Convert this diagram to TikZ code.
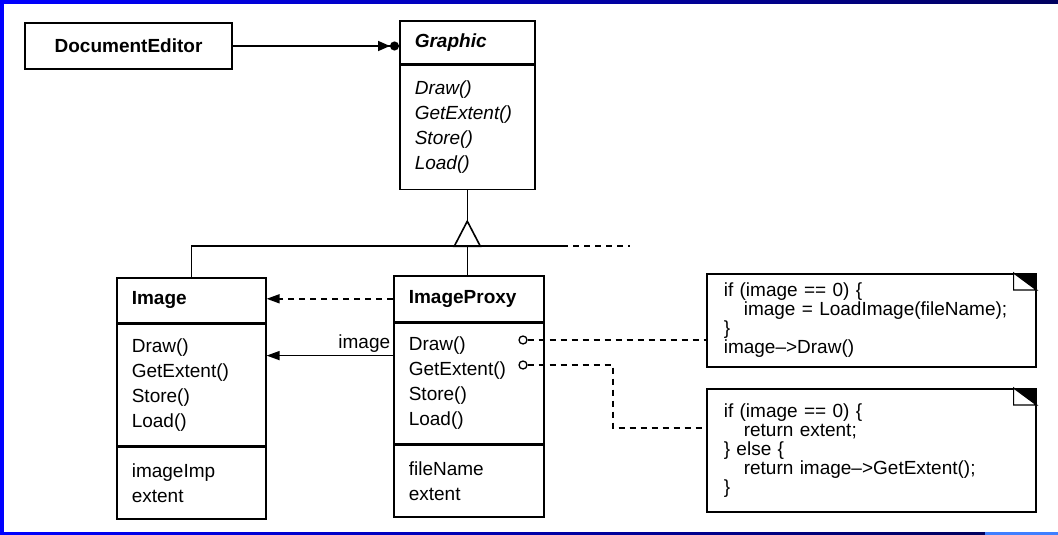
\documentclass[tikz,border=0pt]{standalone}
\usepackage{fontspec}
\setmainfont{Liberation Sans}
\usetikzlibrary{positioning,arrows.meta}
\definecolor{SlideBlue}{HTML}{0000FF}
\definecolor{SlideNavy}{HTML}{00005E}
\definecolor{SlideSky}{HTML}{3F7FFF}
\newcommand{\umlsize}{\fontsize{19}{25}\selectfont}
\newcommand{\notesize}{\fontsize{19}{19}\selectfont}

\begin{document}
\begin{tikzpicture}[x=1pt, y=-1pt, line width=1.6pt,
                    >={Triangle[length=13pt,width=9pt]},
                    cls/.style={draw, text width=#1, align=left, inner xsep=15pt,
                                inner ysep=0pt, font=\umlsize},
                    note/.style={draw, text width=295pt, minimum width=329pt, align=left,
                                 inner xsep=17pt, inner ysep=0pt, font=\notesize},
                    port/.style={draw, circle, inner sep=0pt, minimum size=8pt, line width=1.3pt},
                    dashline/.style={dash pattern=on 6pt off 5pt}]
\useasboundingbox (0,0) rectangle (1058,535);
\fill[SlideBlue] (0,0) rectangle (4,535);
\shade[left color=SlideBlue, right color=SlideNavy] (0,0) rectangle (1058,4);
\shade[left color=SlideBlue, right color=SlideNavy] (0,532) rectangle (985,535);
\fill[SlideSky] (985,532) rectangle (1058,535);

\node[draw, minimum width=207pt, minimum height=46pt, font=\umlsize\bfseries] (docEd) at (128.5,46) {DocumentEditor};

% Graphic
\node[cls=105pt, minimum height=43pt, anchor=north west, font=\umlsize\bfseries\itshape] (gfxH) at (399,20) {Graphic};
\node[cls=105pt, minimum height=124pt, below=0pt of gfxH, font=\umlsize\itshape] (gfxM) {Draw()\\GetExtent()\\Store()\\Load()};

% Image
\node[cls=119pt, minimum height=45pt, anchor=north west, font=\umlsize\bfseries] (imgH) at (116,277) {Image};
\node[cls=119pt, minimum height=121pt, below=0pt of imgH] (imgM) {Draw()\\GetExtent()\\Store()\\Load()};
\node[cls=119pt, minimum height=72pt, below=0pt of imgM] (imgA) {imageImp\\extent};

% ImageProxy
\node[cls=120pt, minimum height=46pt, anchor=north west, font=\umlsize\bfseries] (pxH) at (393,275) {ImageProxy};
\node[cls=120pt, minimum height=120pt, below=0pt of pxH] (pxM) {Draw()\\GetExtent()\\Store()\\Load()};
\node[cls=120pt, minimum height=72pt, below=0pt of pxM] (pxA) {fileName\\extent};

\node[port] (drawDot) at (523,340) {};
\node[port] (extDot) at (523,365) {};

% notes
\node[note, minimum height=93pt, anchor=north west] (noteA) at (706,273)
  {if (image == 0) \{\\\hspace*{20pt}image = LoadImage(fileName);\\\}\\image-->Draw()};
\node[note, minimum height=123pt, anchor=north west] (noteB) at (706,388)
  {if (image == 0) \{\\\hspace*{20pt}return extent;\\\} else \{\\\hspace*{20pt}return image-->GetExtent();\\\}};
\foreach \n in {noteA,noteB} {
  \fill (\n.north east) -- ++(-23,0) -- ++(23,17) -- cycle;
  \draw[fill=white, line width=1.2pt] ([xshift=-23pt]\n.north east) -- ++(0,17) -- ++(23,0) -- cycle;
}

% connectors
\draw[-{Triangle[length=12pt,width=10pt]Circle[length=9pt]}] (docEd.east) -- (docEd.east -| gfxH.west);

\coordinate (apex) at ([yshift=-31pt]gfxM.south);
\coordinate (gen) at ([yshift=-56pt]gfxM.south);
\draw (gfxM.south) -- (apex);
\draw[fill=white] (apex) -- ++(-13,25) -- ++(26,0) -- cycle;
\draw (imgH.north) |- (gen) -- ++(95,0) coordinate (genEnd);
\draw[dashline] (genEnd) -- ++(68,0);
\draw (gen) -- (gen |- pxH.north);

\draw[->, dashline] (pxH.west) -- (pxH.west -| imgH.east);
\coordinate (ref) at ([yshift=-33pt]pxM.north west);
\draw[->] (ref) -- node[pos=0, above left, inner sep=2pt, font=\umlsize] (refLbl) {image} (ref -| imgM.east);

\draw[dashline] (drawDot) -- (drawDot -| noteA.west);
\coordinate (bendA) at (613,365);
\coordinate (bendB) at (613,428);
\draw[dashline] (extDot) -- (bendA) -- (bendB) -- (bendB -| noteB.west);
\end{tikzpicture}
\end{document}
